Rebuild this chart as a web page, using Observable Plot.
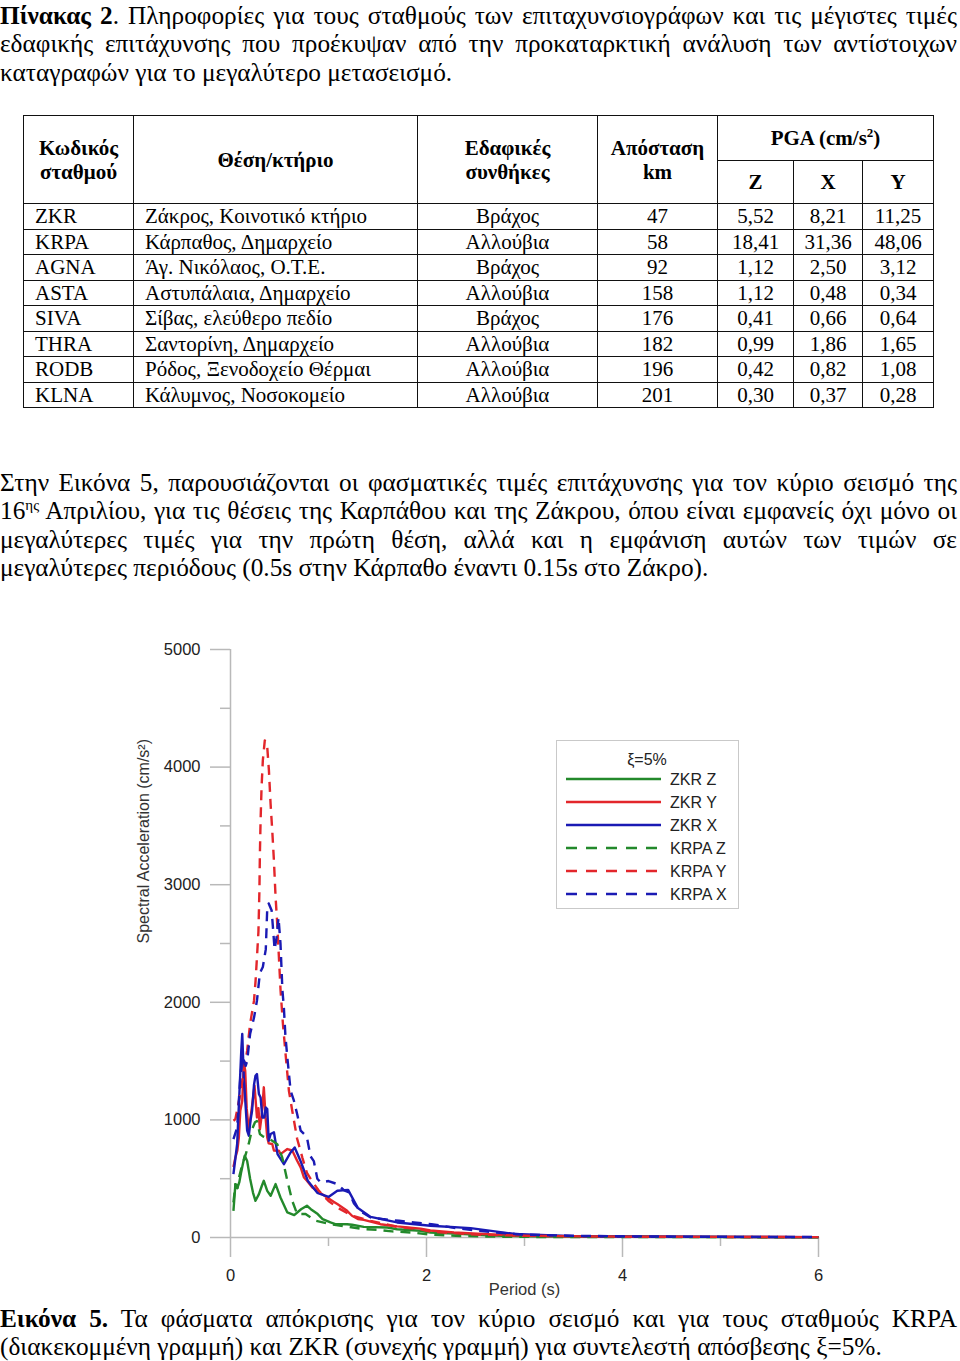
<!DOCTYPE html>
<html><head><meta charset="utf-8">
<script src="https://cdn.jsdelivr.net/npm/d3@7"></script>
<script src="https://cdn.jsdelivr.net/npm/@observablehq/plot@0.6"></script>
<style>
html,body{margin:0;padding:0;background:#fff;}
body{width:960px;height:1361px;position:relative;overflow:hidden;font-family:"Liberation Serif","Times New Roman",serif;color:#000;}
.block{position:absolute;left:0;width:957px;font-size:25.3px;line-height:28.6px;}
.ln{white-space:nowrap;height:28.6px;}
.ln sup{font-size:15px;line-height:0;vertical-align:9px;}
#tbl{position:absolute;left:23px;top:115px;border-collapse:collapse;table-layout:fixed;font-size:21px;font-family:"Liberation Serif",serif;}
#tbl td,#tbl th{border:1px solid #111;padding:0;line-height:24px;white-space:nowrap;overflow:hidden;}
#tbl th{font-weight:bold;font-size:21px;}
#tbl th sup{font-size:13px;line-height:0;vertical-align:8px;}
#tbl td.l{text-align:left;padding-left:11px;}
#tbl td.c{text-align:center;}
#chart{position:absolute;left:0;top:620px;}
</style></head>
<body>
<div class="block" id="title" style="top:0.7px">
  <div class="ln j"><span><b>Πίνακας 2</b>. Πληροφορίες για τους σταθμούς των επιταχυνσιογράφων και τις μέγιστες τιμές</span></div>
  <div class="ln j"><span>εδαφικής επιτάχυνσης που προέκυψαν από την προκαταρκτική ανάλυση των αντίστοιχων</span></div>
  <div class="ln"><span>καταγραφών για το μεγαλύτερο μετασεισμό.</span></div>
</div>
<table id="tbl"></table>
<div class="block" id="para" style="top:467.7px">
  <div class="ln j"><span>Στην Εικόνα 5, παρουσιάζονται οι φασματικές τιμές επιτάχυνσης για τον κύριο σεισμό της</span></div>
  <div class="ln j"><span>16<sup>ης</sup> Απριλίου, για τις θέσεις της Καρπάθου και της Ζάκρου, όπου είναι εμφανείς όχι μόνο οι</span></div>
  <div class="ln j"><span>μεγαλύτερες τιμές για την πρώτη θέση, αλλά και η εμφάνιση αυτών των τιμών σε</span></div>
  <div class="ln"><span>μεγαλύτερες περιόδους (0.5s στην Κάρπαθο έναντι 0.15s στο Ζάκρο).</span></div>
</div>
<div id="chart"></div>
<div class="block" id="caption" style="top:1303.7px">
  <div class="ln j"><span><b>Εικόνα 5.</b> Τα φάσματα απόκρισης για τον κύριο σεισμό και για τους σταθμούς KRPA</span></div>
  <div class="ln"><span>(διακεκομμένη γραμμή) και ZKR (συνεχής γραμμή) για συντελεστή απόσβεσης ξ=5%.</span></div>
</div>
<script>
// ---------- table data ----------
const codes = ["ZKR","KRPA","AGNA","ASTA","SIVA","THRA","RODB","KLNA"];
const sites = ["Ζάκρος, Κοινοτικό κτήριο","Κάρπαθος, Δημαρχείο","Άγ. Νικόλαος, Ο.Τ.Ε.","Αστυπάλαια, Δημαρχείο","Σίβας, ελεύθερο πεδίο","Σαντορίνη, Δημαρχείο","Ρόδος, Ξενοδοχείο Θέρμαι","Κάλυμνος, Νοσοκομείο"];
const soils = ["Βράχος","Αλλούβια","Βράχος","Αλλούβια","Βράχος","Αλλούβια","Αλλούβια","Αλλούβια"];
const distances = ["47","58","92","158","176","182","196","201"];
const pgaZ = ["5,52","18,41","1,12","1,12","0,41","0,99","0,42","0,30"];
const pgaX = ["8,21","31,36","2,50","0,48","0,66","1,86","0,82","0,37"];
const pgaY = ["11,25","48,06","3,12","0,34","0,64","1,65","1,08","0,28"];

// ---------- spectra data (period s, spectral acceleration cm/s2) ----------
const zkrZ_T  = [0.03,0.05,0.07,0.09,0.11,0.13,0.145,0.17,0.2,0.23,0.255,0.29,0.32,0.34,0.375,0.41,0.46,0.51,0.58,0.65,0.72,0.78,0.82,0.89,0.94,1.02,1.07,1.19,1.24,1.36,1.6,1.7,1.94,2.04,2.28,2.62,3.0,3.5,4.0,5.0,6.0];
const zkrZ_SA = [227,454,420,470,560,640,695,650,500,380,312,369,440,482,397,355,454,340,213,190,240,270,241,199,156,128,114,113,108,90,85,70,57,43,34,18,10,8,6,4,3];

const zkrY_T  = [0.03,0.05,0.07,0.085,0.1,0.12,0.136,0.15,0.165,0.187,0.22,0.245,0.27,0.285,0.3,0.32,0.34,0.358,0.375,0.39,0.426,0.443,0.494,0.51,0.58,0.63,0.68,0.716,0.75,0.78,0.835,0.94,1.06,1.09,1.19,1.24,1.3,1.36,1.53,1.7,1.94,2.04,2.28,2.62,3.0,3.5,4.0,5.0,6.0];
const zkrY_SA = [600,680,740,850,1078,1163,1480,1420,1100,908,1120,1290,1021,1100,920,1050,1277,1021,851,800,795,740,738,709,752,740,653,596,510,482,425,365,300,284,227,185,157,150,113,95,75,60,43,28,15,10,7,5,3];

const zkrX_T  = [0.03,0.068,0.095,0.11,0.12,0.136,0.153,0.17,0.187,0.205,0.22,0.24,0.255,0.27,0.29,0.307,0.325,0.345,0.36,0.375,0.39,0.41,0.443,0.48,0.545,0.613,0.655,0.72,0.79,0.886,1.0,1.09,1.2,1.3,1.43,1.7,2.04,2.45,2.9,3.5,4.0,5.0,6.0];
const zkrX_SA = [539,795,1305,1589,1731,1350,1135,908,866,1000,1078,1300,1376,1390,1220,1191,1021,1021,1106,1092,823,880,895,709,624,723,766,640,480,380,345,397,405,250,175,128,100,80,30,12,8,5,3];

const krpaZ_T  = [0.03,0.05,0.07,0.09,0.12,0.153,0.187,0.22,0.25,0.27,0.3,0.33,0.358,0.4,0.426,0.477,0.528,0.58,0.63,0.68,0.766,0.87,1.02,1.25,1.36,1.5,1.65,1.85,2.04,2.3,2.6,3.0,4.0,5.0,6.0];
const krpaZ_SA = [298,454,420,520,620,700,800,920,980,990,880,860,851,835,823,794,681,483,312,200,200,142,113,85,71,65,52,42,25,14,8,5,4,3,2];

const krpaY_T  = [0.03,0.05,0.1,0.136,0.17,0.2,0.24,0.256,0.27,0.285,0.295,0.3,0.307,0.317,0.33,0.35,0.375,0.392,0.409,0.426,0.443,0.46,0.477,0.494,0.511,0.535,0.562,0.596,0.63,0.68,0.733,0.78,0.84,0.9,1.0,1.1,1.24,1.43,1.7,1.94,2.04,2.5,3.0,3.5,4.0,5.0,6.0];
const krpaY_SA = [993,1007,1220,1418,1589,1816,2014,2184,2383,2600,2950,3263,3546,3830,4057,4227,4170,3972,3688,3461,3206,2894,2667,2383,2100,1816,1560,1248,1078,840,680,550,470,400,310,250,185,142,90,70,50,25,15,10,7,5,3];

const krpaX_T  = [0.03,0.068,0.1,0.12,0.14,0.155,0.17,0.2,0.24,0.27,0.3,0.33,0.36,0.375,0.39,0.42,0.45,0.47,0.49,0.51,0.53,0.545,0.56,0.58,0.613,0.647,0.68,0.716,0.75,0.78,0.817,0.85,0.886,0.92,1.0,1.09,1.16,1.21,1.26,1.33,1.43,1.55,1.72,1.87,2.05,2.3,2.69,3.0,3.5,4.0,5.0,6.0];
const krpaX_SA = [837,936,1362,1530,1500,1460,1500,1730,1870,2014,2250,2300,2450,2800,2840,2780,2450,2550,2720,2500,2100,1950,1720,1530,1250,1163,1050,908,880,850,690,650,500,468,480,454,400,383,290,220,170,157,142,128,114,80,43,25,15,10,6,4];

const xTicks = [0,2,4,6];
const xMinor = [1,3,5];
const yTicks = [0,1000,2000,3000,4000,5000];
const yMinor = [500,1500,2500,3500,4500];

const GREEN = "#23892b", RED = "#e3262b", BLUE = "#1a1ab4";
const DASH = "10,7";
const series = [
  {name:"ZKR Z", T:zkrZ_T, SA:zkrZ_SA, color:GREEN, dash:null},
  {name:"ZKR Y", T:zkrY_T, SA:zkrY_SA, color:RED, dash:null},
  {name:"ZKR X", T:zkrX_T, SA:zkrX_SA, color:BLUE, dash:null},
  {name:"KRPA Z", T:krpaZ_T, SA:krpaZ_SA, color:GREEN, dash:DASH},
  {name:"KRPA Y", T:krpaY_T, SA:krpaY_SA, color:RED, dash:DASH},
  {name:"KRPA X", T:krpaX_T, SA:krpaX_SA, color:BLUE, dash:DASH}
];

// ---------- table ----------
const tbl = document.getElementById("tbl");
const colW = [110,284,180,120,76,69,71];
let html = "<colgroup>" + colW.map(w=>`<col style="width:${w}px">`).join("") + "</colgroup>";
html += `<tr style="height:45px"><th rowspan="2">Κωδικός<br>σταθμού</th><th rowspan="2">Θέση/κτήριο</th><th rowspan="2">Εδαφικές<br>συνθήκες</th><th rowspan="2">Απόσταση<br>km</th><th colspan="3">PGA (cm/s<sup>2</sup>)</th></tr>`;
html += `<tr style="height:43px"><th>Z</th><th>X</th><th>Y</th></tr>`;
codes.forEach((c,i)=>{
  html += `<tr style="height:25.5px"><td class="l">${c}</td><td class="l">${sites[i]}</td><td class="c">${soils[i]}</td><td class="c">${distances[i]}</td><td class="c">${pgaZ[i]}</td><td class="c">${pgaX[i]}</td><td class="c">${pgaY[i]}</td></tr>`;
});
tbl.innerHTML = html;

// ---------- justify lines ----------
document.querySelectorAll(".ln.j").forEach(el=>{
  const span = el.querySelector("span");
  const w = span.getBoundingClientRect().width;
  const n = (span.textContent.match(/ /g)||[]).length;
  if (n>0) span.style.wordSpacing = ((957 - w)/n) + "px";
});

// ---------- chart ----------
const axisStyle = {stroke:"#b9b9b9", strokeWidth:1.5, fill:"#222", label:null};
const plot = Plot.plot({
  width:960, height:682,
  marginLeft:230, marginRight:142, marginTop:29, marginBottom:65,
  x:{domain:[0,6]},
  y:{domain:[0,5000]},
  style:{fontFamily:"'Liberation Sans', Arial, sans-serif", fontSize:"16.5px", background:"transparent", color:"#222"},
  marks:[
    Plot.ruleX([0], {stroke:"#b9b9b9", strokeWidth:1.5}),
    Plot.ruleY([0], {stroke:"#b9b9b9", strokeWidth:1.5}),
    Plot.axisY({...axisStyle, ticks:yTicks, tickSize:20, tickPadding:10, tickFormat:d=>String(d)}),
    Plot.axisY({...axisStyle, ticks:yMinor, tickSize:10, tickFormat:()=>""}),
    Plot.axisX({...axisStyle, ticks:xTicks, tickSize:20, tickPadding:12, tickFormat:d=>String(d)}),
    Plot.axisX({...axisStyle, ticks:xMinor, tickSize:9, tickFormat:()=>""}),
    ...series.map(s=>Plot.line(s.T.map((t,i)=>({T:t, SA:s.SA[i]})), {x:"T", y:"SA", stroke:s.color, strokeWidth:2.4, strokeDasharray:s.dash, strokeLinejoin:"round", strokeLinecap:"butt"})),
    Plot.text(["Period (s)"], {frameAnchor:"bottom", dy:57, fill:"#333", fontSize:16.5}),
    Plot.text(["Spectral Acceleration (cm/s²)"], {frameAnchor:"left", dx:-87, rotate:-90, fill:"#333", fontSize:16})
  ]
});
document.getElementById("chart").appendChild(plot);

// ---------- legend ----------
const leg = d3.select("body").append("div")
  .style("position","absolute").style("left","556px").style("top","740px")
  .style("width","181px").style("height","167px").style("border","1px solid #c9c9c9").style("background","#fff");
const ls = leg.append("svg").attr("width",181).attr("height",167)
  .style("font-family","'Liberation Sans', Arial, sans-serif").style("font-size","16px");
ls.append("text").attr("x",90).attr("y",24).attr("text-anchor","middle").attr("fill","#222").text("ξ=5%");
series.forEach((s,i)=>{
  const y = 38 + 23*i;
  ls.append("line").attr("x1",9).attr("x2",104).attr("y1",y).attr("y2",y)
    .attr("stroke",s.color).attr("stroke-width",2.3).attr("stroke-dasharray",s.dash ? "11,9" : null);
  ls.append("text").attr("x",113).attr("y",y+6).attr("fill","#222").text(s.name);
});
</script>
</body></html>
